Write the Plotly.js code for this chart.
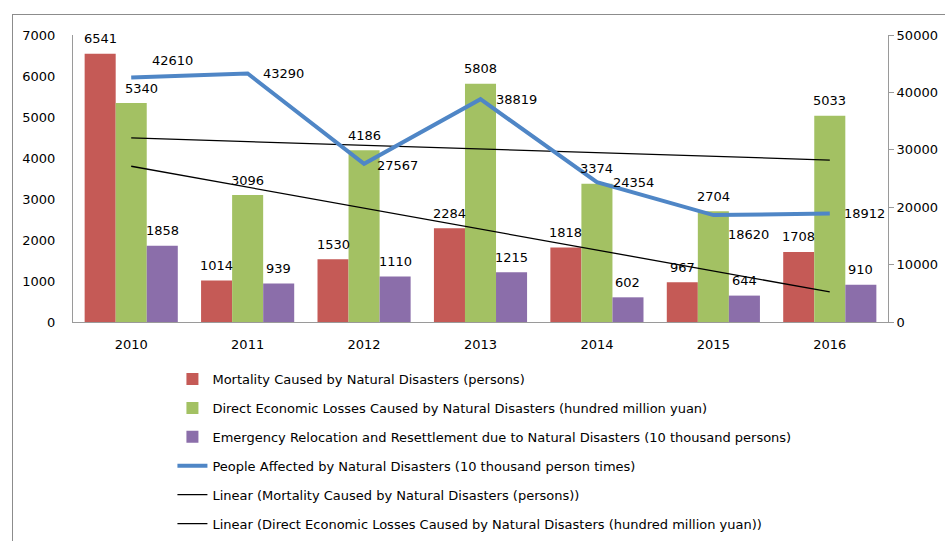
<!DOCTYPE html>
<html>
<head>
<meta charset="utf-8">
<script src="https://cdn.plot.ly/plotly-3.0.1.min.js"></script>
<style>
  html, body { margin:0; padding:0; width:945px; height:541px; overflow:hidden; background:#fff; }
  #chart { position:absolute; left:0; top:0; width:945px; height:541px; }
  #frame { position:absolute; left:12px; top:14px; width:1000px; height:600px; border:1px solid #8c8c8c; pointer-events:none; }
</style>
</head>
<body>
<div id="chart"></div>
<div id="frame"></div>
<script>
const years = ['2010', '2011', '2012', '2013', '2014', '2015', '2016'];
const mortality = [6541, 1014, 1530, 2284, 1818, 967, 1708];
const economicLosses = [5340, 3096, 4186, 5808, 3374, 2704, 5033];
const relocation = [1858, 939, 1110, 1215, 602, 644, 910];
const peopleAffected = [42610, 43290, 27567, 38819, 24354, 18620, 18912];

const leftTicks = [0, 1000, 2000, 3000, 4000, 5000, 6000, 7000];
const rightTicks = [0, 10000, 20000, 30000, 40000, 50000];

const names = [
  'Mortality Caused by Natural Disasters (persons)',
  'Direct Economic Losses Caused by Natural Disasters (hundred million yuan)',
  'Emergency Relocation and Resettlement due to Natural Disasters (10 thousand persons)',
  'People Affected by Natural Disasters (10 thousand person times)',
  'Linear (Mortality Caused by Natural Disasters (persons))',
  'Linear (Direct Economic Losses Caused by Natural Disasters (hundred million yuan))'
];

// least-squares linear trendline (as Excel "Linear" trendline)
function linearTrend(vals) {
  const n = vals.length;
  const xs = vals.map((_, i) => i);
  const mx = xs.reduce((a, b) => a + b, 0) / n;
  const my = vals.reduce((a, b) => a + b, 0) / n;
  let num = 0, den = 0;
  for (let i = 0; i < n; i++) { num += (xs[i] - mx) * (vals[i] - my); den += (xs[i] - mx) ** 2; }
  const slope = num / den;
  return xs.map(x => my + slope * (x - mx));
}

const FONT = 'DejaVu Sans, sans-serif';
const labelFont = { family: FONT, size: 13, color: '#000' };
const BARGAP = 0.2;
const barW = (1 - BARGAP) / 3;

const traces = [
  { type: 'bar', name: names[0], x: years, y: mortality, marker: { color: '#C55A56' }, legendgroup: 'a' },
  { type: 'bar', name: names[1], x: years, y: economicLosses, marker: { color: '#A3C163' }, legendgroup: 'b' },
  { type: 'bar', name: names[2], x: years, y: relocation, marker: { color: '#8B6EAA' }, legendgroup: 'c' },
  { type: 'scatter', mode: 'lines', name: names[3], x: years, y: peopleAffected, yaxis: 'y2',
    line: { color: '#4F86C6', width: 4 }, legendgroup: 'd' },
  { type: 'scatter', mode: 'lines', name: names[4], x: years, y: linearTrend(mortality),
    line: { color: '#000', width: 1.3 }, legendgroup: 'e' },
  { type: 'scatter', mode: 'lines', name: names[5], x: years, y: linearTrend(economicLosses),
    line: { color: '#000', width: 1.3 }, legendgroup: 'f' }
];

// data labels
const annotations = [];
const barSeries = [mortality, economicLosses, relocation];
const barLabelXShift = [[0,0,0,0,0,0,0],[10,0,0,0,0,0,0],[0,0,0,0,0,0,0]];
barSeries.forEach((vals, s) => {
  vals.forEach((v, i) => {
    annotations.push({ x: i + (s - 1) * barW, y: v, xref: 'x', yref: 'y', text: String(v),
      showarrow: false, xanchor: 'center', yanchor: 'middle', yshift: 15,
      xshift: barLabelXShift[s][i], font: labelFont });
  });
});
const lineLabelXShift = [19, 13, 11, 13, 14, 13, 12];
const lineLabelYShift = [17, 0, -2, 0, 0, -19, 0];
peopleAffected.forEach((v, i) => {
  annotations.push({ x: i, y: v, xref: 'x', yref: 'y2', text: String(v), showarrow: false,
    xanchor: 'left', yanchor: 'middle', xshift: lineLabelXShift[i], yshift: lineLabelYShift[i], font: labelFont });
});

const layout = {
  width: 945, height: 541,
  margin: { l: 73, r: 57, t: 35, b: 219, autoexpand: false },
  paper_bgcolor: '#fff', plot_bgcolor: '#fff',
  font: { family: FONT, size: 13, color: '#000' },
  barmode: 'group', bargap: BARGAP, bargroupgap: 0,
  showlegend: true,
  annotations: annotations,
  xaxis: { type: 'category', showline: true, linecolor: '#9a9a9a', linewidth: 1, ticks: '',
           showgrid: false, tickfont: { family: FONT, size: 13, color: '#000' }, ticklabelstandoff: 10 },
  yaxis: { range: [0, 7000], tickvals: leftTicks, showline: true, linecolor: '#9a9a9a', linewidth: 1,
           showgrid: false, zeroline: false, ticks: '', ticklabelstandoff: 14,
           tickfont: { family: FONT, size: 13, color: '#000' } },
  yaxis2: { range: [0, 50000], tickvals: rightTicks, tickformat: 'd', overlaying: 'y', side: 'right', showline: true,
            linecolor: '#9a9a9a', linewidth: 1, showgrid: false, zeroline: false, ticks: 'outside',
            ticklen: 5, tickcolor: '#9a9a9a', tickfont: { family: FONT, size: 13, color: '#000' } },
  legend: { orientation: 'v', x: 0.122, xanchor: 'left', y: 0.327, yref: 'container', yanchor: 'top',
            font: { family: FONT, size: 13, color: '#000' }, tracegroupgap: 9, itemwidth: 30,
            bgcolor: 'rgba(0,0,0,0)', traceorder: 'grouped' }
};

Plotly.newPlot('chart', traces, layout, { displayModeBar: false, staticPlot: true });
</script>
</body>
</html>
